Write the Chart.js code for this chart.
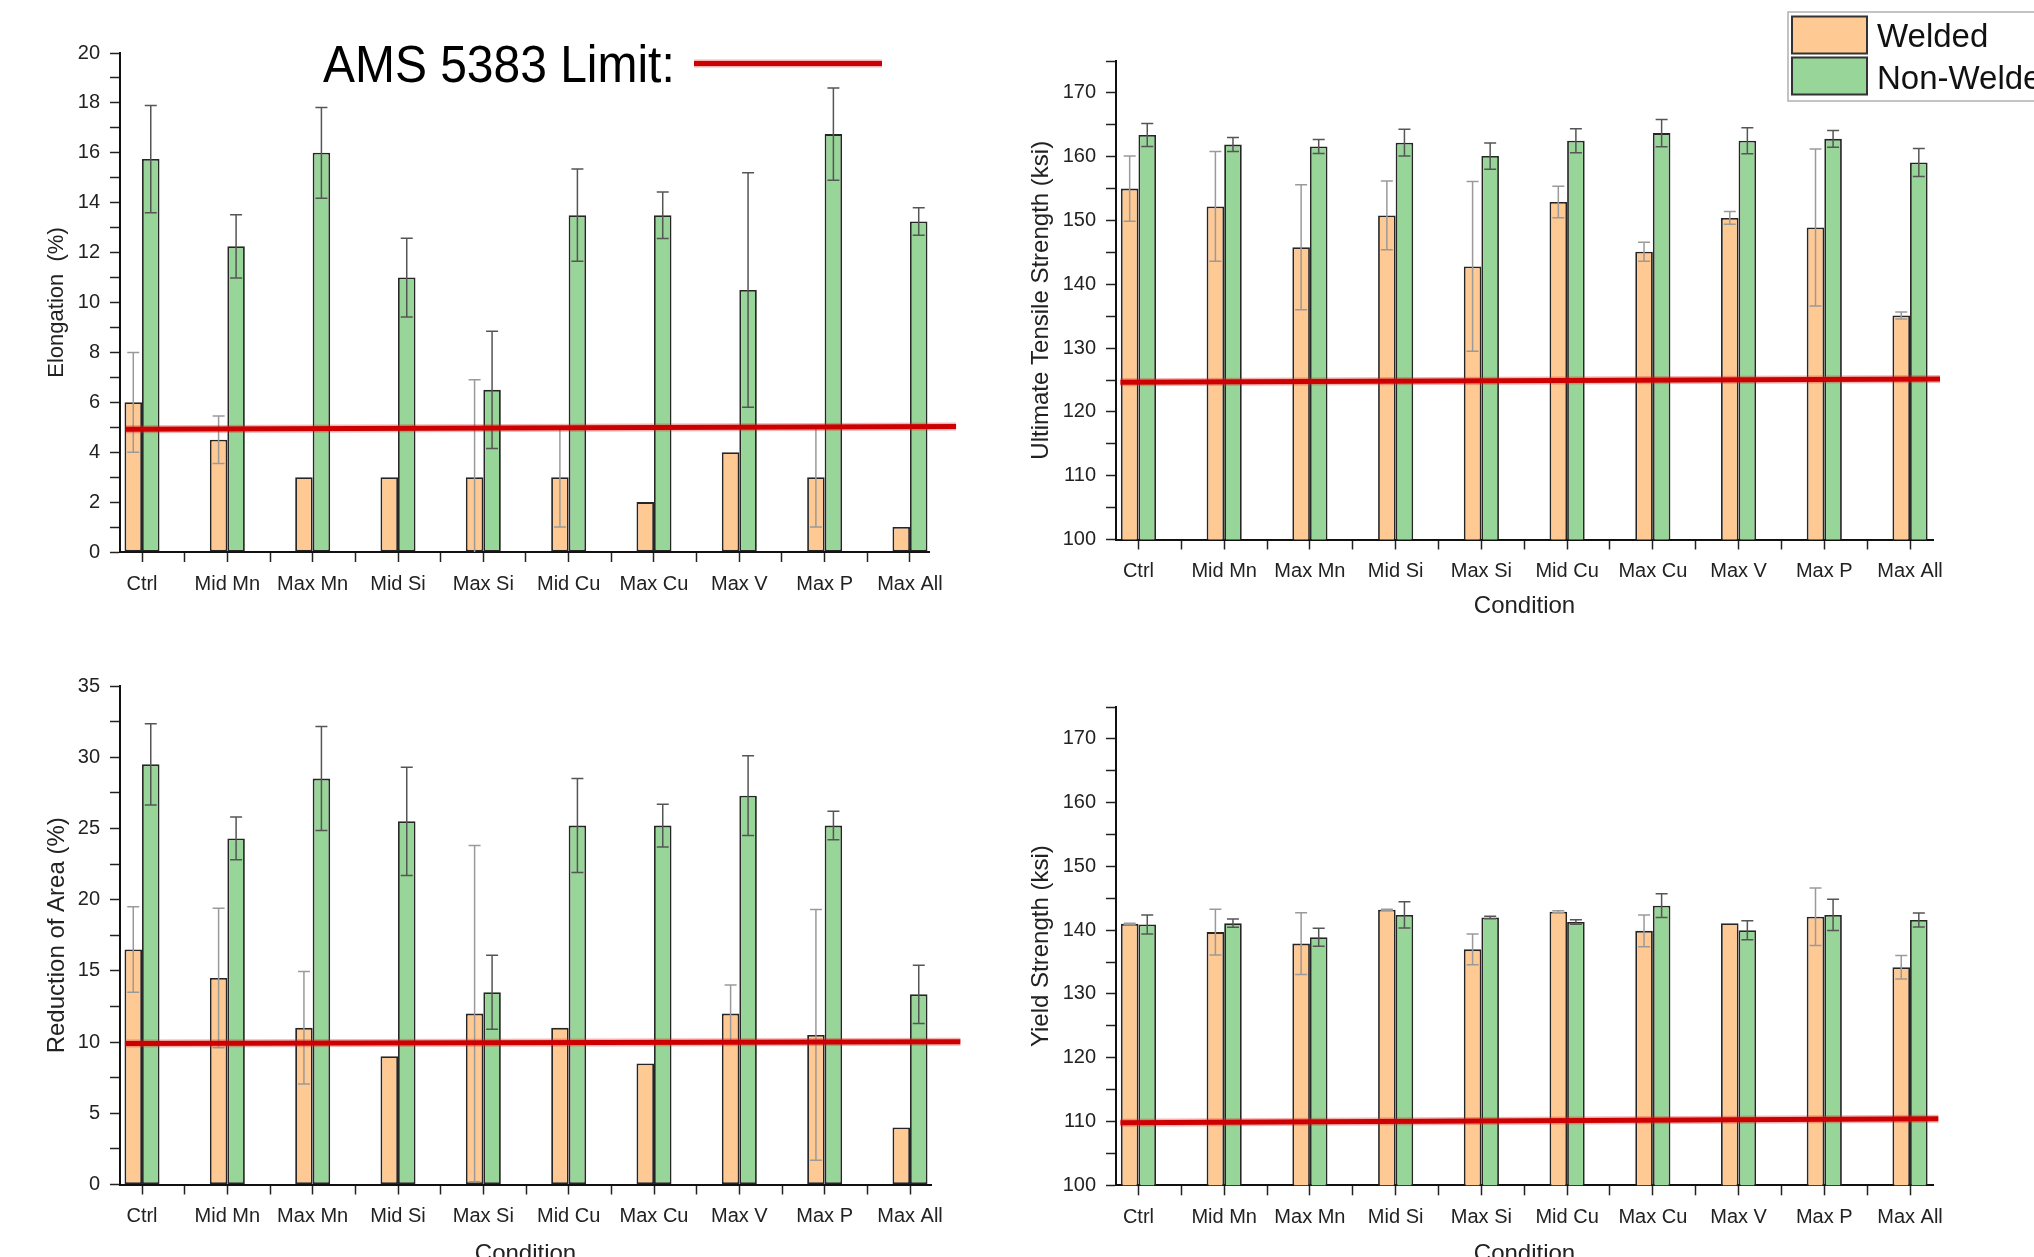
<!DOCTYPE html>
<html lang="en">
<head>
    <meta charset="UTF-8">
    <title>Welded vs Non-Welded Tensile Properties</title>
    <script src="https://cdn.jsdelivr.net/npm/chart.js"></script>
    <style>
        html, body {
            margin: 0;
            padding: 0;
            width: 2034px;
            height: 1257px;
            overflow: hidden;
            background: #fff;
        }
        canvas {
            position: absolute;
        }
    </style>
</head>
<body>
    <canvas id="elongChart" width="1000" height="640" style="left:0;top:0"></canvas>
    <canvas id="utsChart" width="1034" height="640" style="left:1000px;top:0"></canvas>
    <canvas id="raChart" width="1000" height="700" style="left:0;top:640px"></canvas>
    <canvas id="ysChart" width="1034" height="700" style="left:1000px;top:640px"></canvas>
    <script>
        const conditions = ['Ctrl', 'Mid Mn', 'Max Mn', 'Mid Si', 'Max Si', 'Mid Cu', 'Max Cu', 'Max V', 'Max P', 'Max All'];
        const seriesLabels = ['Welded', 'Non-Welded'];

        // Elongation (%)
        const elongWelded = [6.0, 4.5, 3.0, 3.0, 3.0, 3.0, 2.0, 4.0, 3.0, 1.0];
        const elongWeldedErr = [2.0, 0.95, 0, 0, 3.9, 2.0, 0, 0, 2.0, 0];
        const elongNonWelded = [15.75, 12.25, 16.0, 11.0, 6.5, 13.5, 13.5, 10.5, 16.75, 13.25];
        const elongNonWeldedErr = [2.15, 1.27, 1.82, 1.58, 2.35, 1.85, 0.93, 4.7, 1.85, 0.55];
        const elongLimit = [4.92, 5.03];
        const elongAxis = [0, 20, 1, 2];   // min, max, minor step, labelled step

        // Ultimate tensile strength (ksi)
        const utsWelded = [155.0, 152.2, 145.8, 150.8, 142.8, 152.9, 145.1, 150.4, 148.9, 135.1];
        const utsWeldedErr = [5.1, 8.6, 9.8, 5.4, 13.3, 2.45, 1.5, 1.0, 12.3, 0.55];
        const utsNonWelded = [163.4, 161.9, 161.6, 162.2, 160.1, 162.5, 163.7, 162.5, 162.8, 159.1];
        const utsNonWeldedErr = [1.8, 1.1, 1.1, 2.1, 2.05, 1.9, 2.15, 2.05, 1.3, 2.2];
        const utsLimit = [124.65, 125.15];
        const utsAxis = [100, 175, 5, 10];

        // Reduction of area (%)
        const raWelded = [16.5, 14.5, 11.0, 9.0, 12.0, 11.0, 8.5, 12.0, 10.5, 4.0];
        const raWeldedErr = [3.0, 4.9, 3.95, 0, 11.8, 0, 0, 2.0, 8.8, 0];
        const raNonWelded = [29.5, 24.3, 28.5, 25.5, 13.5, 25.2, 25.2, 27.3, 25.2, 13.35];
        const raNonWeldedErr = [2.85, 1.5, 3.65, 3.8, 2.6, 3.3, 1.5, 2.8, 1.0, 2.05];
        const raLimit = [9.9, 10.03];
        const raAxis = [0, 35, 2.5, 5];

        // Yield strength (ksi)
        const ysWelded = [141.0, 139.7, 137.9, 143.2, 137.0, 142.9, 139.9, 141.1, 142.1, 134.2];
        const ysWeldedErr = [0.1, 3.6, 4.85, 0.1, 2.4, 0.15, 2.5, 0, 4.5, 1.85];
        const ysNonWelded = [140.9, 141.1, 138.9, 142.4, 142.0, 141.3, 143.85, 140.0, 142.4, 141.6];
        const ysNonWeldedErr = [1.5, 0.65, 1.4, 2.05, 0.2, 0.35, 1.85, 1.5, 2.45, 1.1];
        const ysLimit = [109.8, 110.45];
        const ysAxis = [100, 175, 5, 10];

        const ORANGE = '#FFC994';
        const GREEN = '#98D598';
        const LIMIT_RED = '#cc0000';
        const FONT = "'Liberation Sans', Arial, sans-serif";

        Chart.defaults.font.family = FONT;
        Chart.defaults.color = '#222';

        // error bars drawn from the dataset's errors through the y scale
        const errorBars = {
            id: 'errorBars',
            afterDatasetsDraw(chart) {
                const { ctx, chartArea, scales: { y } } = chart;
                ctx.save();
                ctx.beginPath();
                ctx.rect(chartArea.left, chartArea.top, chartArea.width, chartArea.height);
                ctx.clip();
                chart.data.datasets.forEach((ds, di) => {
                    const meta = chart.getDatasetMeta(di);
                    ctx.strokeStyle = ds.errorColor;
                    ctx.lineWidth = 1.5;
                    meta.data.forEach((bar, i) => {
                        const e = ds.errors[i];
                        if (!e) return;
                        const v = ds.data[i].y;
                        const top = y.getPixelForValue(v + e);
                        const bot = y.getPixelForValue(v - e);
                        ctx.beginPath();
                        ctx.moveTo(bar.x, top);
                        ctx.lineTo(bar.x, bot);
                        ctx.moveTo(bar.x - 6, top);
                        ctx.lineTo(bar.x + 6, top);
                        ctx.moveTo(bar.x - 6, bot);
                        ctx.lineTo(bar.x + 6, bot);
                        ctx.stroke();
                    });
                });
                ctx.restore();
            }
        };

        // AMS 5383 limit line
        const limitLine = {
            id: 'limitLine',
            afterDatasetsDraw(chart, args, opts) {
                const { ctx, scales: { x, y } } = chart;
                const x1 = x.getPixelForValue(opts.from), x2 = x.getPixelForValue(opts.to);
                const y1 = y.getPixelForValue(opts.values[0]), y2 = y.getPixelForValue(opts.values[1]);
                ctx.save();
                ctx.lineCap = 'butt';
                ctx.strokeStyle = 'rgba(220, 40, 40, 0.35)';
                ctx.lineWidth = 8;
                ctx.beginPath();
                ctx.moveTo(x1, y1);
                ctx.lineTo(x2, y2);
                ctx.stroke();
                ctx.strokeStyle = LIMIT_RED;
                ctx.lineWidth = 5;
                ctx.stroke();
                ctx.restore();
            }
        };

        // "AMS 5383 Limit:" key above the elongation plot
        const limitKey = {
            id: 'limitKey',
            afterDraw(chart, args, opts) {
                const ctx = chart.ctx;
                ctx.save();
                ctx.font = opts.fontSize + 'px ' + FONT;
                ctx.fillStyle = '#000';
                ctx.textBaseline = 'alphabetic';
                ctx.translate(opts.x, opts.baseline);
                ctx.scale(0.94, 1);
                ctx.fillText(opts.text, 0, 0);
                ctx.setTransform(1, 0, 0, 1, 0, 0);
                ctx.strokeStyle = 'rgba(220, 40, 40, 0.35)';
                ctx.lineWidth = 8;
                ctx.beginPath();
                ctx.moveTo(opts.lineFrom, opts.lineY);
                ctx.lineTo(opts.lineTo, opts.lineY);
                ctx.stroke();
                ctx.strokeStyle = LIMIT_RED;
                ctx.lineWidth = 5;
                ctx.stroke();
                ctx.restore();
            }
        };

        // boxed legend in the top right corner
        const boxLegend = {
            id: 'boxLegend',
            afterDraw(chart, args, opts) {
                const ctx = chart.ctx;
                ctx.save();
                ctx.fillStyle = '#fff';
                ctx.fillRect(opts.left, opts.top, opts.width, opts.height);
                ctx.strokeStyle = '#b0b0b0';
                ctx.lineWidth = 1.5;
                ctx.strokeRect(opts.left, opts.top, opts.width, opts.height);
                ctx.font = opts.fontSize + 'px ' + FONT;
                ctx.textBaseline = 'alphabetic';
                chart.data.datasets.forEach((ds, i) => {
                    const sy = opts.top + 4.5 + i * (opts.swatchH + opts.gap);
                    ctx.fillStyle = ds.backgroundColor;
                    ctx.fillRect(opts.left + 4, sy, opts.swatchW, opts.swatchH);
                    ctx.strokeStyle = '#333';
                    ctx.lineWidth = 2;
                    ctx.strokeRect(opts.left + 4, sy, opts.swatchW, opts.swatchH);
                    ctx.fillStyle = '#111';
                    ctx.fillText(ds.label, opts.left + opts.swatchW + 14, opts.baselines[i]);
                });
                ctx.restore();
            }
        };

        function tickValues(axis) {
            const vals = [];
            for (let v = axis[0]; v <= axis[1] + 1e-9; v += axis[2]) vals.push(Math.round(v * 100) / 100);
            return vals;
        }

        function xTickValues() {
            const vals = [];
            conditions.forEach((c, i) => {
                vals.push(i);
                if (i < conditions.length - 1) vals.push(i + 0.5);
            });
            return vals;
        }

        function makeChart(id, spec) {
            const pts = vals => vals.map((v, i) => ({ x: i, y: v }));
            const barStyle = {
                borderColor: '#262626',
                borderWidth: 1.8,
                borderSkipped: false,
                categoryPercentage: 0.82,
                barPercentage: 1.0
            };
            return new Chart(document.getElementById(id), {
                type: 'bar',
                data: {
                    datasets: [
                        Object.assign({
                            label: seriesLabels[0],
                            data: pts(spec.welded),
                            errors: spec.weldedErr,
                            errorColor: '#9a9a9a',
                            backgroundColor: ORANGE
                        }, barStyle),
                        Object.assign({
                            label: seriesLabels[1],
                            data: pts(spec.nonWelded),
                            errors: spec.nonWeldedErr,
                            errorColor: '#555',
                            backgroundColor: GREEN
                        }, barStyle)
                    ]
                },
                options: {
                    responsive: false,
                    animation: false,
                    layout: { padding: spec.pad },
                    plugins: {
                        legend: { display: false },
                        tooltip: { enabled: false },
                        limitLine: { values: spec.limit, from: spec.limitFrom, to: spec.limitTo },
                        limitKey: spec.key || false,
                        boxLegend: spec.legend || false
                    },
                    scales: {
                        x: {
                            type: 'linear',
                            offset: false,
                            min: spec.xRange[0],
                            max: spec.xRange[1],
                            afterBuildTicks: s => { s.ticks = xTickValues().map(v => ({ value: v })); },
                            afterFit: s => { s.height = spec.xHeight; },
                            ticks: {
                                autoSkip: false,
                                maxRotation: 0,
                                minRotation: 0,
                                padding: 10,
                                font: { size: 20 },
                                color: '#222',
                                callback: v => Number.isInteger(v) ? conditions[v] : ''
                            },
                            grid: { offset: false, drawOnChartArea: false, tickLength: 10, tickWidth: 1.5, tickColor: '#222' },
                            border: { color: '#111', width: 2 },
                            title: {
                                display: spec.xTitle,
                                text: 'Condition',
                                font: { size: 24 },
                                color: '#222',
                                padding: { top: 0, bottom: spec.xTitlePad }
                            }
                        },
                        y: {
                            min: spec.axis[0],
                            max: spec.axis[1],
                            afterBuildTicks: s => { s.ticks = tickValues(spec.axis).map(v => ({ value: v })); },
                            afterFit: s => { s.width = spec.yWidth; },
                            ticks: {
                                autoSkip: false,
                                padding: 10,
                                font: { size: 20 },
                                color: '#222',
                                callback: v => {
                                    const r = v / spec.axis[3];
                                    return Math.abs(r - Math.round(r)) < 1e-6 ? v : '';
                                }
                            },
                            grid: { drawOnChartArea: false, tickLength: 10, tickWidth: 1.5, tickColor: '#222' },
                            border: { color: '#111', width: 2 },
                            title: {
                                display: true,
                                text: spec.yTitle,
                                font: { size: spec.yTitleSize },
                                color: '#222',
                                padding: { top: spec.yTitlePad, bottom: 0 }
                            }
                        }
                    }
                },
                plugins: [errorBars, limitLine, limitKey, boxLegend]
            });
        }

        const elongChart = makeChart('elongChart', {
            welded: elongWelded, weldedErr: elongWeldedErr,
            nonWelded: elongNonWelded, nonWeldedErr: elongNonWeldedErr,
            limit: elongLimit, limitFrom: -0.19, limitTo: 9.54,
            axis: elongAxis, xRange: [-0.258, 9.223],
            pad: { left: 0, right: 71, top: 53, bottom: 38 },
            yWidth: 120, xHeight: 50,
            yTitle: 'Elongation  (%)', yTitleSize: 22, yTitlePad: 44,
            xTitle: false, xTitlePad: 0,
            key: { text: 'AMS 5383 Limit:', fontSize: 51, x: 323, baseline: 81.5, lineFrom: 694, lineTo: 882, lineY: 63.5 }
        });

        const utsChart = makeChart('utsChart', {
            welded: utsWelded, weldedErr: utsWeldedErr,
            nonWelded: utsNonWelded, nonWeldedErr: utsNonWeldedErr,
            limit: utsLimit, limitFrom: -0.21, limitTo: 9.35,
            axis: utsAxis, xRange: [-0.262, 9.268],
            pad: { left: 0, right: 101, top: 61, bottom: 10.5 },
            yWidth: 116, xHeight: 90,
            yTitle: 'Ultimate Tensile Strength (ksi)', yTitleSize: 24, yTitlePad: 26.6,
            xTitle: true, xTitlePad: 8.4,
            legend: { left: 788, top: 12, width: 320, height: 89, swatchW: 75, swatchH: 37, gap: 4, fontSize: 33, baselines: [47, 89] }
        });

        const raChart = makeChart('raChart', {
            welded: raWelded, weldedErr: raWeldedErr,
            nonWelded: raNonWelded, nonWeldedErr: raNonWeldedErr,
            limit: raLimit, limitFrom: -0.2, limitTo: 9.59,
            axis: raAxis, xRange: [-0.258, 9.246],
            pad: { left: 0, right: 69, top: 46, bottom: 65.5 },
            yWidth: 120, xHeight: 90,
            yTitle: 'Reduction of Area (%)', yTitleSize: 24, yTitlePad: 43.3,
            xTitle: true, xTitlePad: 6.1
        });

        const ysChart = makeChart('ysChart', {
            welded: ysWelded, weldedErr: ysWeldedErr,
            nonWelded: ysNonWelded, nonWeldedErr: ysNonWeldedErr,
            limit: ysLimit, limitFrom: -0.21, limitTo: 9.33,
            axis: ysAxis, xRange: [-0.262, 9.268],
            pad: { left: 0, right: 101, top: 67, bottom: 64.7 },
            yWidth: 116, xHeight: 90,
            yTitle: 'Yield Strength (ksi)', yTitleSize: 24, yTitlePad: 26.6,
            xTitle: true, xTitlePad: 6.9
        });
    </script>
</body>
</html>
